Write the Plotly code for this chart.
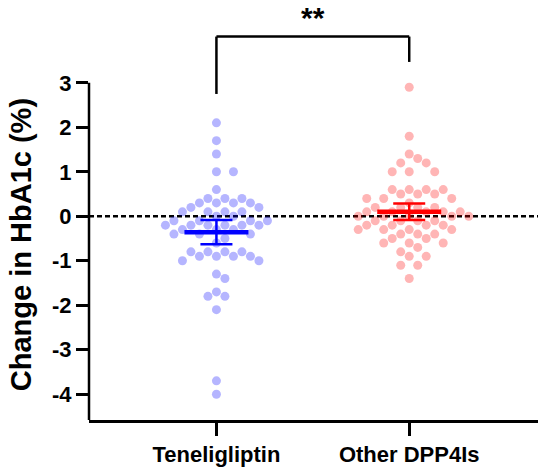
import numpy as np
import plotly.graph_objects as go


################################
######## DATA ########
################################

groups = ['Teneligliptin', 'Other DPP4Is']

tene_vals = [2.1, 1.7, 1.4, 1.0, 1.0, 0.6, 0.4, 0.4, 0.4, 0.3, 0.3, 0.3, 0.3, 0.2, 0.2,
             0.1, 0.1, 0.1, 0.1, 0.0, 0.0, -0.1, -0.1, -0.1, -0.1, -0.2, -0.2, -0.2, -0.2,
             -0.2, -0.2, -0.3, -0.3, -0.3, -0.4, -0.4, -0.4, -0.5, -0.6, -0.8, -0.8, -0.8,
             -0.8, -0.9, -0.9, -0.9, -0.9, -1.0, -1.0, -1.3, -1.4, -1.7, -1.8, -1.8, -2.1,
             -3.7, -4.0]

other_vals = [2.9, 1.8, 1.4, 1.3, 1.2, 1.2, 1.0, 1.0, 1.0, 0.6, 0.6, 0.6, 0.6, 0.5, 0.5,
              0.5, 0.4, 0.4, 0.4, 0.3, 0.2, 0.2, 0.2, 0.2, 0.1, 0.1, 0.1, 0.1, 0.1, 0.0,
              0.0, 0.0, 0.0, 0.0, -0.1, -0.1, -0.1, -0.1, -0.2, -0.2, -0.2, -0.2, -0.3,
              -0.3, -0.3, -0.3, -0.4, -0.4, -0.4, -0.5, -0.5, -0.6, -0.6, -0.6, -0.7,
              -0.8, -0.9, -0.9, -1.1, -1.1, -1.4]

y_ticks = [-4, -3, -2, -1, 0, 1, 2, 3]
y_title = 'Change in HbA1c (%)'
sig_label = '**'


################################
######## LAYOUT PARAMS ########
################################

W, H = 550, 475
margin = dict(l=89, r=12, t=5, b=55)
x_range = [-0.661, 1.668]
y_range = [-4.58, 4.75]
font_fam = 'Liberation Sans, Arial, sans-serif'

px_per_x = (W - margin['l'] - margin['r']) / (x_range[1] - x_range[0])
px_per_y = (H - margin['t'] - margin['b']) / (y_range[1] - y_range[0])


#### simple beeswarm, offsets in x data units
def swarm(vals, dot=9.4, step=8.5):
    vals = np.asarray(vals)
    order = np.argsort(-vals, kind='stable')
    placed = []
    offs = np.zeros(len(vals))
    cands = [0] + [s * j for j in range(1, 40) for s in (1, -1)]
    for i in order:
        y = vals[i] * px_per_y
        for c in cands:
            x = c * step
            if all((x - px) ** 2 + (y - py) ** 2 >= dot ** 2 for px, py in placed):
                break
        placed.append((x, y))
        offs[i] = x / px_per_x
    return offs


fig = go.Figure()

#### zero line
fig.add_trace(go.Scatter(
    x=x_range, y=[0, 0], mode='lines',
    line=dict(color='black', width=2.5, dash='5px,3px'),
    showlegend=False, hoverinfo='skip'))

colors_pt = ['rgba(0,0,255,0.29)', 'rgba(255,0,0,0.29)']
colors_bar = ['#0000ff', '#ff0000']

for g_i, vals in enumerate([tene_vals, other_vals]):

    vals = np.asarray(vals)
    offs = swarm(vals)

    #### dots
    fig.add_trace(go.Scatter(
        x=g_i + offs,
        y=vals,
        mode='markers',
        marker=dict(size=9, color=colors_pt[g_i], line=dict(width=0)),
        cliponaxis=False,
        showlegend=False,
    ))

    #### mean and 95% CI
    m = vals.mean()
    ci = 1.96 * vals.std(ddof=1) / np.sqrt(len(vals))

    fig.add_trace(go.Scatter(
        x=[g_i, g_i], y=[m - ci, m + ci], mode='lines',
        line=dict(color=colors_bar[g_i], width=2.5), showlegend=False))
    for yy in [m - ci, m + ci]:
        fig.add_trace(go.Scatter(
            x=[g_i - 0.083, g_i + 0.083], y=[yy, yy], mode='lines',
            line=dict(color=colors_bar[g_i], width=2.5), showlegend=False))
    fig.add_trace(go.Scatter(
        x=[g_i - 0.166, g_i + 0.166], y=[m, m], mode='lines',
        line=dict(color=colors_bar[g_i], width=4.5), showlegend=False))

#### y axis line, stops at top tick
fig.add_shape(type='line', xref='paper', x0=0, x1=0, yref='y', y0=y_range[0], y1=max(y_ticks),
              line=dict(color='black', width=2.5), opacity=1)

#### significance bracket
for (xa, ya, xb, yb) in [(0, 2.75, 0, 4.04), (0, 4.04, 1, 4.04), (1, 4.04, 1, 3.47)]:
    fig.add_shape(type='line', xref='x', yref='y', x0=xa, y0=ya, x1=xb, y1=yb,
                  line=dict(color='black', width=2.5), opacity=1)
fig.add_annotation(x=0.5, y=4.47, xref='x', yref='y', text=f'<b>{sig_label}</b>',
                   showarrow=False, font=dict(family=font_fam, size=30, color='black'))

#### y title centred on the visible axis line
fig.add_annotation(x=0, xref='paper', xshift=-68, xanchor='center',
                   y=-0.65, yref='y', yanchor='middle', textangle=-90,
                   text=f'<b>{y_title}</b>', showarrow=False,
                   font=dict(family=font_fam, size=29, color='black'))

fig.update_layout(
    width=W,
    height=H,
    margin=margin,
    plot_bgcolor='white',
    paper_bgcolor='white',
    font=dict(family=font_fam, color='black'),
    xaxis=dict(
        range=x_range,
        tickvals=[0, 1],
        ticktext=[f'<b>{g}</b>' for g in groups],
        tickfont=dict(size=22),
        ticks='outside', ticklen=13, tickwidth=2.5, tickcolor='black',
        showline=True, linewidth=2.5, linecolor='black',
        showgrid=False, zeroline=False,
    ),
    yaxis=dict(
        range=y_range,
        tickvals=y_ticks,
        ticktext=[f'<b>{t}</b>' for t in y_ticks],
        tickfont=dict(size=22),
        ticks='outside', ticklen=12, tickwidth=2.5, tickcolor='black',
        showline=False,
        showgrid=False, zeroline=False,
    ),
)

#### page has a default 8px body margin, drop it so the figure sits at 0,0
fig.write_html('out.html', config={'displayModeBar': False},
               post_script="document.body.style.margin='0px';")
